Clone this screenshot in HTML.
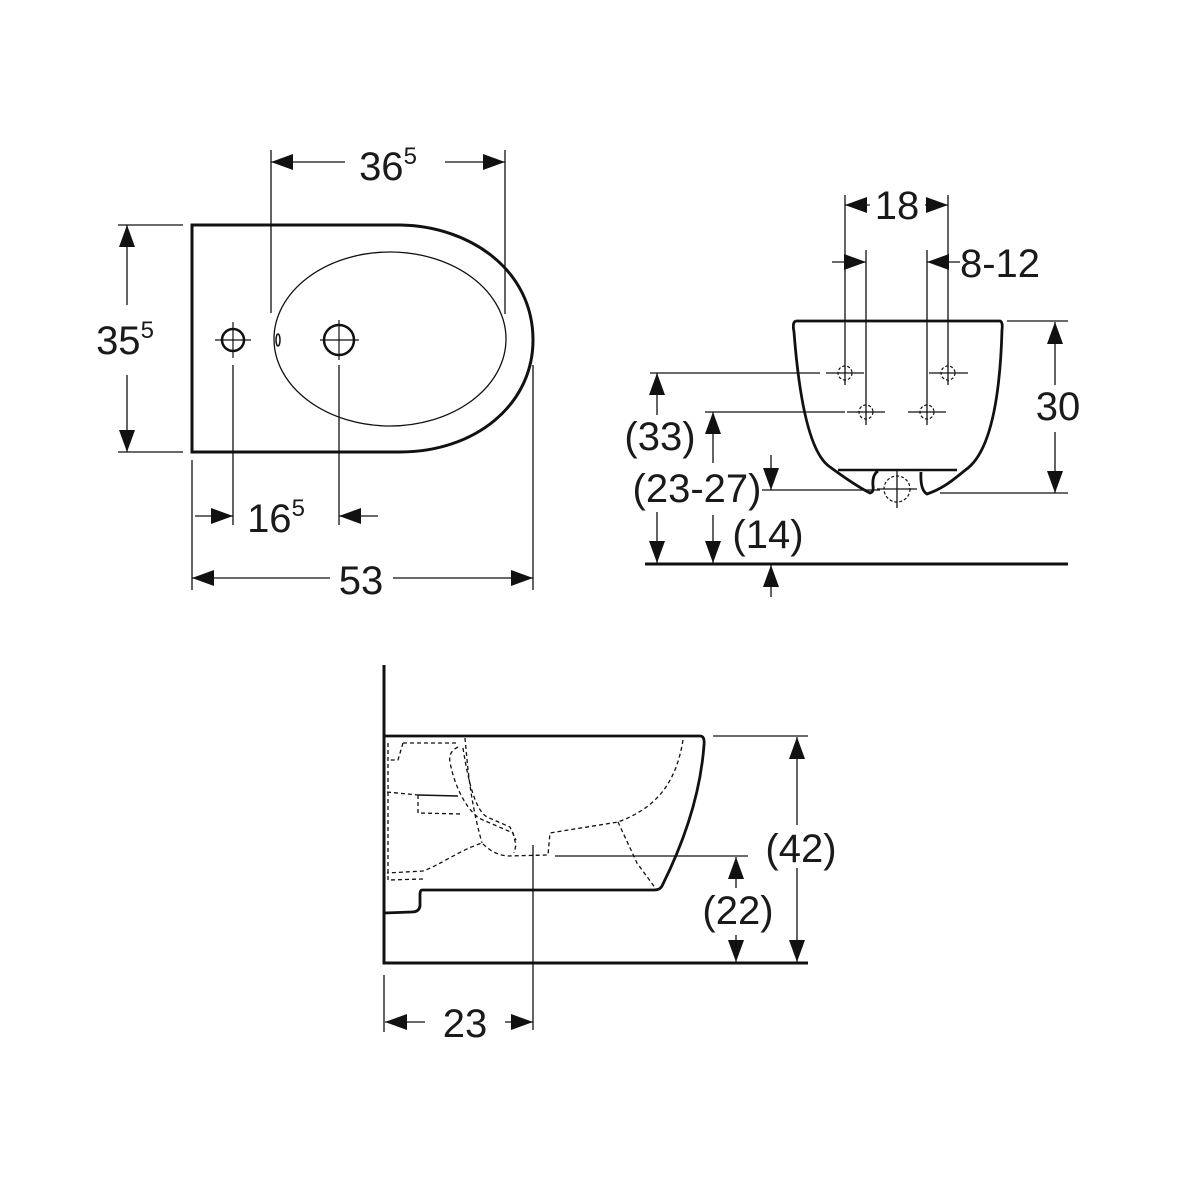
<!DOCTYPE html>
<html><head><meta charset="utf-8"><style>
html,body{margin:0;padding:0;background:#fff}
svg{display:block}
text{font-family:"Liberation Sans",Arial,sans-serif;font-size:40px;fill:#1a1a1a;text-anchor:middle}
</style></head><body>
<svg width="1200" height="1200" viewBox="0 0 1200 1200" xmlns="http://www.w3.org/2000/svg">
<defs>
<marker id="a" markerUnits="userSpaceOnUse" markerWidth="24" markerHeight="18" refX="22" refY="8" orient="auto-start-reverse">
<path d="M0,0 L22,8 L0,16 z" fill="#111"/></marker>
</defs>
<g fill="none" stroke="#111">
<!-- TOP VIEW -->
<path d="M192,225 L400,225 C470,226 533,270 533,340 C533,405 475,452 400,452 L192,452 Z" stroke-width="3"/>
<ellipse cx="390" cy="339" rx="116" ry="87" stroke-width="1.3"/>
<circle cx="233" cy="340" r="11" stroke-width="2.5"/>
<circle cx="339" cy="340" r="15" stroke-width="2.5"/>
<path d="M215,340H251M233,322V358M320,340H359M339,320V360" stroke-width="1.2"/>
<ellipse cx="278" cy="340" rx="2" ry="6" stroke-width="1.5"/>
<g stroke-width="1.3">
<path d="M271,150V313M505,150V314M118,225H183M118,452H183M192,460V590M533,365V590M233,365V525M339,365V525"/>
<path d="M271,162H345" marker-start="url(#a)"/><path d="M445,162H505" marker-end="url(#a)"/>
<path d="M127,225V305" marker-start="url(#a)"/><path d="M127,375V452" marker-end="url(#a)"/>
<path d="M195,516H233" marker-end="url(#a)"/><path d="M378,516H339" marker-end="url(#a)"/>
<path d="M192,578H330" marker-start="url(#a)"/><path d="M393,578H533" marker-end="url(#a)"/>
</g>
<!-- FRONT VIEW -->
<path d="M796,321 L1000,321 Q1003,322 1002,330 C1000,400 990,450 968,468 C955,478 945,488 927,494 Q920,490 921,472 M796,321 Q792,322 794,332 C800,410 812,455 830,467 C845,478 860,488 870,493 Q874,492 873,486 Q872,475 878,471" stroke-width="2.8"/>
<path d="M838,470H957" stroke-width="2.5"/>
<g stroke-width="1.3">
<path d="M845,195V385M948,195V385M866,250V425M927,250V425"/>
<path d="M845,205H870" marker-start="url(#a)"/><path d="M925,205H948" marker-end="url(#a)"/>
<path d="M832,262H866" marker-end="url(#a)"/><path d="M960,262H927" marker-end="url(#a)"/>
<path d="M1007,321H1068M940,493H1068M650,373H820M705,412H845M762,490H880"/>
<path d="M826,373H864M929,373H968M847,412H885M908,412H946M877,489H917M897,470V508"/>
<path d="M1055,322V385" marker-start="url(#a)"/><path d="M1055,432V493" marker-end="url(#a)"/>
<path d="M657,373V415" marker-start="url(#a)"/><path d="M657,512V563" marker-end="url(#a)"/>
<path d="M713,412V463" marker-start="url(#a)"/><path d="M713,515V563" marker-end="url(#a)"/>
<path d="M771,455V490" marker-end="url(#a)"/><path d="M771,597V565" marker-end="url(#a)"/>
</g>
<g stroke-width="1.2" stroke-dasharray="3,2">
<circle cx="845" cy="373" r="7"/><circle cx="948" cy="373" r="7"/>
<circle cx="866" cy="412" r="7"/><circle cx="927" cy="412" r="7"/>
<circle cx="897" cy="489" r="13"/>
</g>
<path d="M645,564H1068" stroke-width="3"/>
<!-- SIDE VIEW -->
<path d="M384,665V963H808" stroke-width="3"/>
<path d="M384,736H700 Q705,736 704,745 C700,800 680,850 662,886 Q660,890 654,890 L422,890 Q420,890 420,895 L420,906 Q419,912 412,912 L384,913" stroke-width="2.8"/>
<g stroke-width="1.3" stroke-dasharray="4,3">
<path d="M683,740 C675,790 650,810 618,822 L550,833 L548,855 L508,856 C495,855 487,848 482,843 C460,850 440,865 423,871 L387,873"/>
<path d="M465,738 C468,770 470,800 482,843"/>
<path d="M458,747 Q448,752 450,762 C455,790 470,815 483,820 L513,833 L516,845 L514,853"/>
<path d="M463,748 C468,780 475,810 487,817 L510,827 L516,840"/>
<path d="M388,743 V880 L423,879"/>
<path d="M403,743 L458,743 M403,743 L398,760 L388,760"/>
<path d="M387,792 L418,795 M418,795 L418,813 L462,814"/>
<path d="M618,822 L637,863 L656,889"/>
</g>
<path d="M418,795 L458,796" stroke-width="1.5"/>
<g stroke-width="1.3">
<path d="M533,845V1030M555,856H748M713,736H808M384,975V1032"/>
<path d="M797,737V825" marker-start="url(#a)"/><path d="M797,868V962" marker-end="url(#a)"/>
<path d="M736,857V888" marker-start="url(#a)"/><path d="M736,935V962" marker-end="url(#a)"/>
<path d="M385,1022H425" marker-start="url(#a)"/><path d="M505,1022H533" marker-end="url(#a)"/>
</g>
</g>
<text x="388" y="180">36<tspan font-size="24" dy="-16">5</tspan></text>
<text x="125" y="354">35<tspan font-size="24" dy="-16">5</tspan></text>
<text x="276" y="532">16<tspan font-size="24" dy="-16">5</tspan></text>
<text x="361" y="594">53</text>
<text x="897" y="219">18</text>
<text x="1000" y="277">8-12</text>
<text x="1058" y="420">30</text>
<text x="660" y="450">(33)</text>
<text x="697" y="502">(23-27)</text>
<text x="768" y="548">(14)</text>
<text x="801" y="862">(42)</text>
<text x="738" y="924">(22)</text>
<text x="465" y="1037">23</text>
</svg>
</body></html>
